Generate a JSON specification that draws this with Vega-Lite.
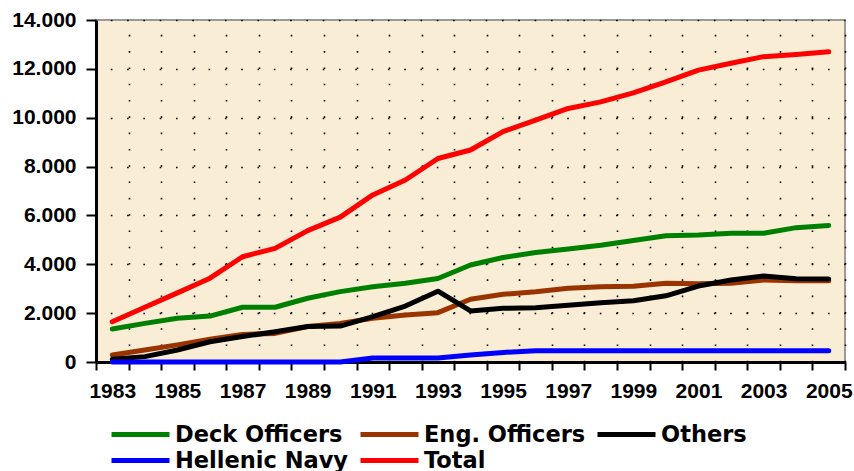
{
  "$schema": "https://vega.github.io/schema/vega-lite/v6.json",
  "autosize": {"type": "none"},
  "width": 749,
  "height": 342,
  "padding": {"left": 96, "top": 20, "right": 9, "bottom": 109},
  "background": "#ffffff",
  "config": {
    "font": "Liberation Sans",
    "view": {"fill": "#F9EDD6", "stroke": "#9a9a9a", "strokeWidth": 2}
  },
  "data": {
    "values": [
      {"year": 1983, "deck": 1350, "eng": 290, "others": 110, "navy": 0, "total": 1650},
      {"year": 1984, "deck": 1580, "eng": 490, "others": 220, "navy": 0, "total": 2240},
      {"year": 1985, "deck": 1790, "eng": 700, "others": 490, "navy": 0, "total": 2830},
      {"year": 1986, "deck": 1880, "eng": 930, "others": 830, "navy": 0, "total": 3430},
      {"year": 1987, "deck": 2240, "eng": 1130, "others": 1040, "navy": 0, "total": 4310},
      {"year": 1988, "deck": 2240, "eng": 1170, "others": 1240, "navy": 0, "total": 4650},
      {"year": 1989, "deck": 2610, "eng": 1450, "others": 1450, "navy": 0, "total": 5380},
      {"year": 1990, "deck": 2880, "eng": 1580, "others": 1470, "navy": 0, "total": 5930},
      {"year": 1991, "deck": 3080, "eng": 1790, "others": 1860, "navy": 160, "total": 6840},
      {"year": 1992, "deck": 3220, "eng": 1920, "others": 2290, "navy": 160, "total": 7450},
      {"year": 1993, "deck": 3420, "eng": 2020, "others": 2900, "navy": 160, "total": 8330},
      {"year": 1994, "deck": 3970, "eng": 2570, "others": 2090, "navy": 290, "total": 8680},
      {"year": 1995, "deck": 4280, "eng": 2770, "others": 2200, "navy": 390, "total": 9430},
      {"year": 1996, "deck": 4480, "eng": 2880, "others": 2220, "navy": 460, "total": 9900},
      {"year": 1997, "deck": 4630, "eng": 3020, "others": 2320, "navy": 460, "total": 10380},
      {"year": 1998, "deck": 4780, "eng": 3080, "others": 2430, "navy": 460, "total": 10650},
      {"year": 1999, "deck": 4970, "eng": 3100, "others": 2510, "navy": 460, "total": 11020},
      {"year": 2000, "deck": 5170, "eng": 3220, "others": 2710, "navy": 460, "total": 11470},
      {"year": 2001, "deck": 5200, "eng": 3200, "others": 3110, "navy": 460, "total": 11950},
      {"year": 2002, "deck": 5270, "eng": 3220, "others": 3360, "navy": 460, "total": 12230},
      {"year": 2003, "deck": 5270, "eng": 3360, "others": 3520, "navy": 460, "total": 12500},
      {"year": 2004, "deck": 5500, "eng": 3330, "others": 3410, "navy": 460, "total": 12590},
      {"year": 2005, "deck": 5590, "eng": 3330, "others": 3400, "navy": 460, "total": 12700}
    ]
  },
  "transform": [
    {"fold": ["deck", "eng", "others", "navy", "total"], "as": ["series", "value"]}
  ],
  "mark": {"type": "line", "strokeWidth": 5, "strokeCap": "round", "strokeJoin": "round"},
  "encoding": {
    "x": {
      "field": "year",
      "type": "quantitative",
      "scale": {"domain": [1982.5, 2005.5], "nice": false, "zero": false},
      "axis": {
        "title": null,
        "values": [1982.5, 1983.5, 1984.5, 1985.5, 1986.5, 1987.5, 1988.5, 1989.5, 1990.5, 1991.5, 1992.5, 1993.5, 1994.5, 1995.5, 1996.5, 1997.5, 1998.5, 1999.5, 2000.5, 2001.5, 2002.5, 2003.5, 2004.5, 2005.5],
        "labelExpr": "(datum.value + 0.5) % 2 == 1 ? toString(datum.value + 0.5) : ''",
        "labelOffset": 16.3,
        "labelFlush": false,
        "labelOverlap": false,
        "labelBound": false,
        "labelFontSize": 21,
        "labelFontWeight": "bold",
        "labelColor": "#000000",
        "labelPadding": 10,
        "domainColor": "#000000",
        "domainWidth": 3,
        "tickColor": "#000000",
        "tickWidth": 2,
        "tickSize": 8,
        "grid": true,
        "gridColor": "#000000",
        "gridWidth": 1.6,
        "gridDash": [1.6, 14.7],
        "gridDashOffset": 2
      }
    },
    "y": {
      "field": "value",
      "type": "quantitative",
      "scale": {"domain": [0, 14000], "nice": false},
      "axis": {
        "title": null,
        "values": [0, 2000, 4000, 6000, 8000, 10000, 12000, 14000],
        "labelExpr": "replace(format(datum.value, ','), ',', '.')",
        "labelFontSize": 21,
        "labelFontWeight": "bold",
        "labelColor": "#000000",
        "labelPadding": 10,
        "domainColor": "#000000",
        "domainWidth": 3,
        "tickColor": "#000000",
        "tickWidth": 2,
        "tickSize": 10,
        "grid": true,
        "gridColor": "#000000",
        "gridWidth": 1.6,
        "gridDash": [1.6, 14.7],
        "gridDashOffset": 2
      }
    },
    "color": {
      "field": "series",
      "type": "nominal",
      "sort": null,
      "scale": {
        "domain": ["deck", "eng", "others", "navy", "total"],
        "range": ["#008000", "#993300", "#000000", "#0000FF", "#FF0000"]
      },
      "legend": {
        "title": null,
        "orient": "none",
        "legendX": 30,
        "legendY": 400,
        "direction": "horizontal",
        "columns": 3,
        "columnPadding": 1,
        "rowPadding": -1,
        "symbolType": "M-2.5,0L2.5,0",
        "symbolSize": 538,
        "symbolStrokeWidth": 5,
        "labelOffset": 20,
        "labelFont": "DejaVu Sans",
        "labelFontSize": 22.5,
        "labelFontWeight": "bold",
        "labelColor": "#000000",
        "labelLimit": 400,
        "labelExpr": "{'deck': 'Deck Officers', 'eng': 'Eng. Officers', 'others': 'Others', 'navy': 'Hellenic Navy', 'total': 'Total'}[datum.label]"
      }
    }
  }
}
